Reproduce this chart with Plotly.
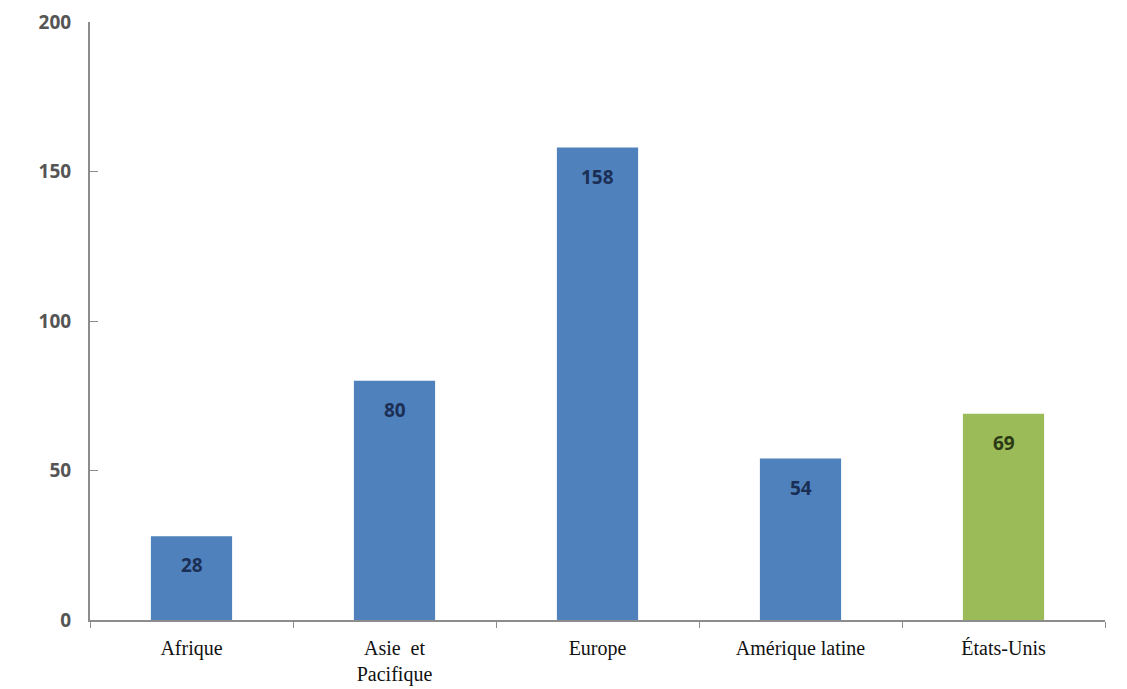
import plotly.graph_objects as go

categories = ["Afrique", "Asie  et<br>Pacifique", "Europe", "Amérique latine", "États-Unis"]
values = [28, 80, 158, 54, 69]
bar_colors = ["#4F81BD", "#4F81BD", "#4F81BD", "#4F81BD", "#9BBB59"]
label_colors = ["#1B2F55", "#1B2F55", "#1B2F55", "#1B2F55", "#2B3A14"]
y_ticks = [0, 50, 100, 150, 200]

fig = go.Figure()
fig.add_trace(go.Bar(
    x=categories, y=values, marker=dict(color=bar_colors, line=dict(width=0)),
    width=0.4, hoverinfo="skip",
))
for c, v, col in zip(categories, values, label_colors):
    fig.add_annotation(x=c, y=v, text=str(v), showarrow=False, yanchor="top", yshift=-14,
                       font=dict(family="Open Sans", size=19, color=col, weight="bold"),
                       xref="x", yref="y")

fig.update_layout(
    width=1127, height=689,
    margin=dict(l=90, r=22, t=22, b=69),
    plot_bgcolor="white", paper_bgcolor="white",
    showlegend=False,
    xaxis=dict(
        automargin=False,
        showgrid=False, showline=True, linecolor="#8C8C8C", linewidth=2,
        ticks="outside", tickson="boundaries", ticklen=6, tickcolor="#8C8C8C", tickwidth=1,
        tickfont=dict(family="Liberation Serif", size=20, color="#111111"),
        ticklabelstandoff=9,
    ),
    yaxis=dict(
        automargin=False,
        range=[0, 200], tickvals=y_ticks, showgrid=False, zeroline=False,
        showline=True, linecolor="#8C8C8C", linewidth=2,
        ticks="inside", ticklen=8, tickcolor="#8C8C8C", tickwidth=1,
        tickfont=dict(family="Open Sans", size=19, color="#555555", weight="bold"),
        ticklabelstandoff=13,
    ),
)
fig.write_html("out.html")
